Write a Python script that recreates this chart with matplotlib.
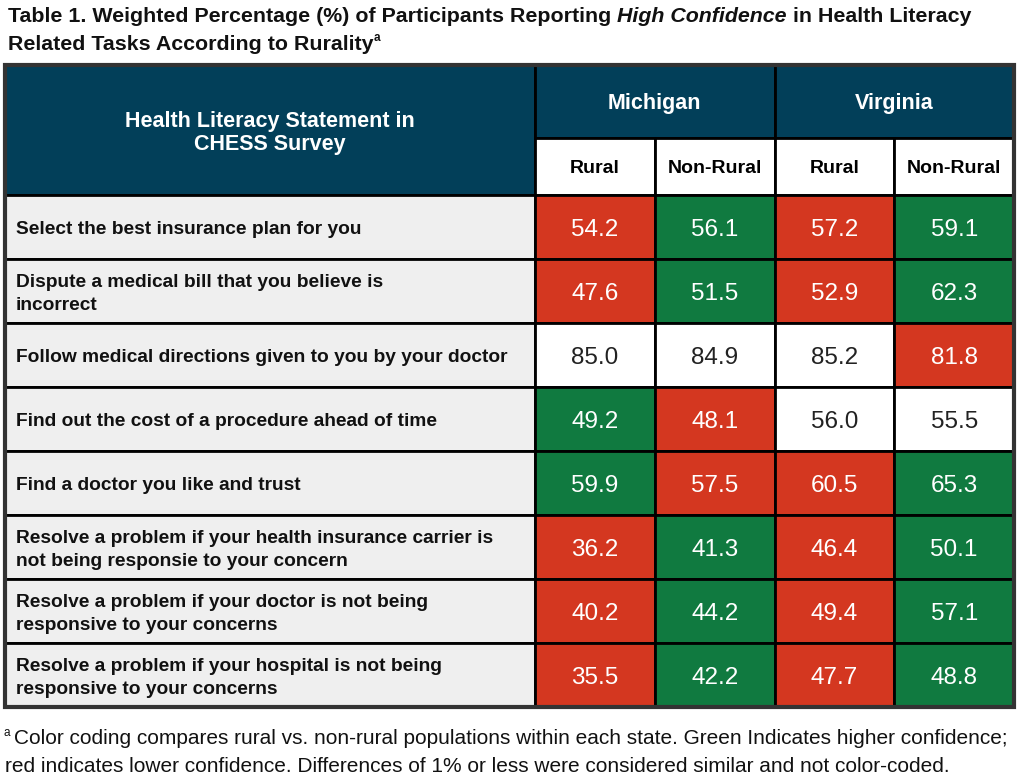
import matplotlib
matplotlib.use("Agg")
import matplotlib.pyplot as plt
from matplotlib.patches import Rectangle
from matplotlib import font_manager

statements = [
    "Select the best insurance plan for you",
    "Dispute a medical bill that you believe is\nincorrect",
    "Follow medical directions given to you by your doctor",
    "Find out the cost of a procedure ahead of time",
    "Find a doctor you like and trust",
    "Resolve a problem if your health insurance carrier is\nnot being responsie to your concern",
    "Resolve a problem if your doctor is not being\nresponsive to your concerns",
    "Resolve a problem if your hospital is not being\nresponsive to your concerns",
]
states = ["Michigan", "Virginia"]
groups = ["Rural", "Non-Rural"]
mi_rural = [54.2, 47.6, 85.0, 49.2, 59.9, 36.2, 40.2, 35.5]
mi_nonrural = [56.1, 51.5, 84.9, 48.1, 57.5, 41.3, 44.2, 42.2]
va_rural = [57.2, 52.9, 85.2, 56.0, 60.5, 46.4, 49.4, 47.7]
va_nonrural = [59.1, 62.3, 81.8, 55.5, 65.3, 50.1, 57.1, 48.8]
# H = higher confidence, L = lower, S = similar (as coded in the source table)
mi_rural_code = ["L", "L", "S", "H", "H", "L", "L", "L"]
mi_nonrural_code = ["H", "H", "S", "L", "L", "H", "H", "H"]
va_rural_code = ["L", "L", "S", "S", "L", "L", "L", "L"]
va_nonrural_code = ["H", "H", "L", "S", "H", "H", "H", "H"]

values = [mi_rural, mi_nonrural, va_rural, va_nonrural]
codes = [mi_rural_code, mi_nonrural_code, va_rural_code, va_nonrural_code]

navy = "#023F59"
red = "#D43720"
green = "#107A40"
light = "#EFEFEF"
fill = {"H": green, "L": red, "S": "white"}
txtc = {"H": "white", "L": "white", "S": "#222222"}

names = {f.name for f in font_manager.fontManager.ttflist}
base = "Liberation Sans" if "Liberation Sans" in names else "DejaVu Sans"
narrow = "Liberation Sans Narrow" if "Liberation Sans Narrow" in names else base
plt.rcParams["font.family"] = base

W, H = 1021, 781
fig = plt.figure(figsize=(W / 100, H / 100), dpi=100)
ax = fig.add_axes([0, 0, 1, 1])
ax.set_xlim(0, W)
ax.set_ylim(H, 0)
ax.axis("off")

# layout in pixels
left, right = 5, 1014
top = 65
h1, h2 = 73, 57
col0 = 530
colw = (right - left - col0) / 4
row_h = 64
y_data = top + h1 + h2

def cell(x, y, w, h, fc, lw=2.0):
    ax.add_patch(Rectangle((x, y), w, h, facecolor=fc, edgecolor="black", lw=lw))

def put_after(prev, y, s, **kw):
    fig.canvas.draw()
    bb = prev.get_window_extent().transformed(ax.transData.inverted())
    return ax.text(bb.x1, y, s, **kw)

# title
tkw = dict(fontsize=15.4, fontweight="bold", va="center", color="#111111")
t = ax.text(8, 17, "Table 1. Weighted Percentage (%) of Participants Reporting ", **tkw)
t2 = put_after(t, 17, "High Confidence", style="italic", **tkw)
put_after(t2, 17, " in Health Literacy", **tkw)
t3 = ax.text(8, 44, "Related Tasks According to Rurality", **tkw)
put_after(t3, 38, "a", fontsize=8.5, fontweight="bold", va="center", color="#111111")

# header
cell(left, top, col0, h1 + h2, navy)
ax.text(left + col0 / 2, top + (h1 + h2) / 2 + 3, "Health Literacy Statement in\nCHESS Survey",
        color="white", fontsize=15.5, fontweight="bold", ha="center", va="center",
        linespacing=1.15)
for s, state in enumerate(states):
    x = left + col0 + s * 2 * colw
    cell(x, top, 2 * colw, h1, navy)
    ax.text(x + colw, top + h1 / 2 + 2, state, color="white", fontsize=15.5,
            fontweight="bold", ha="center", va="center")
    for g, grp in enumerate(groups):
        xg = x + g * colw
        cell(xg, top + h1, colw, h2, "white")
        ax.text(xg + colw / 2, top + h1 + h2 / 2 + 2, grp, color="black", fontsize=14,
                fontweight="bold", ha="center", va="center")

# body
for i, stmt in enumerate(statements):
    y = y_data + i * row_h
    cell(left, y, col0, row_h, light)
    ax.text(left + 11, y + row_h / 2 + 3, stmt, fontsize=13.8, fontweight="bold",
            ha="left", va="center", color="#111111", linespacing=1.4)
    for j in range(4):
        x = left + col0 + j * colw
        c = codes[j][i]
        cell(x, y, colw, row_h, fill[c])
        ax.text(x + colw / 2, y + row_h / 2 + 3, f"{values[j][i]:.1f}", fontsize=17.5,
                ha="center", va="center", color=txtc[c])

# outer frame
ax.add_patch(Rectangle((left, top), right - left, y_data + 8 * row_h - top,
                       facecolor="none", edgecolor="#333333", lw=3))

# footnote
fy = y_data + 8 * row_h
fkw = dict(fontsize=15, family=narrow, va="center", color="#111111")
fa = ax.text(4, fy + 26, "a ", fontsize=8.5, family=narrow, va="center", color="#111111")
put_after(fa, fy + 32, "Color coding compares rural vs. non-rural populations within each state. "
          "Green Indicates higher confidence;", **fkw)
ax.text(5, fy + 60, "red indicates lower confidence. Differences of 1% or less were "
        "considered similar and not color-coded.", **fkw)

fig.savefig("out.png", dpi=100, facecolor="white")
